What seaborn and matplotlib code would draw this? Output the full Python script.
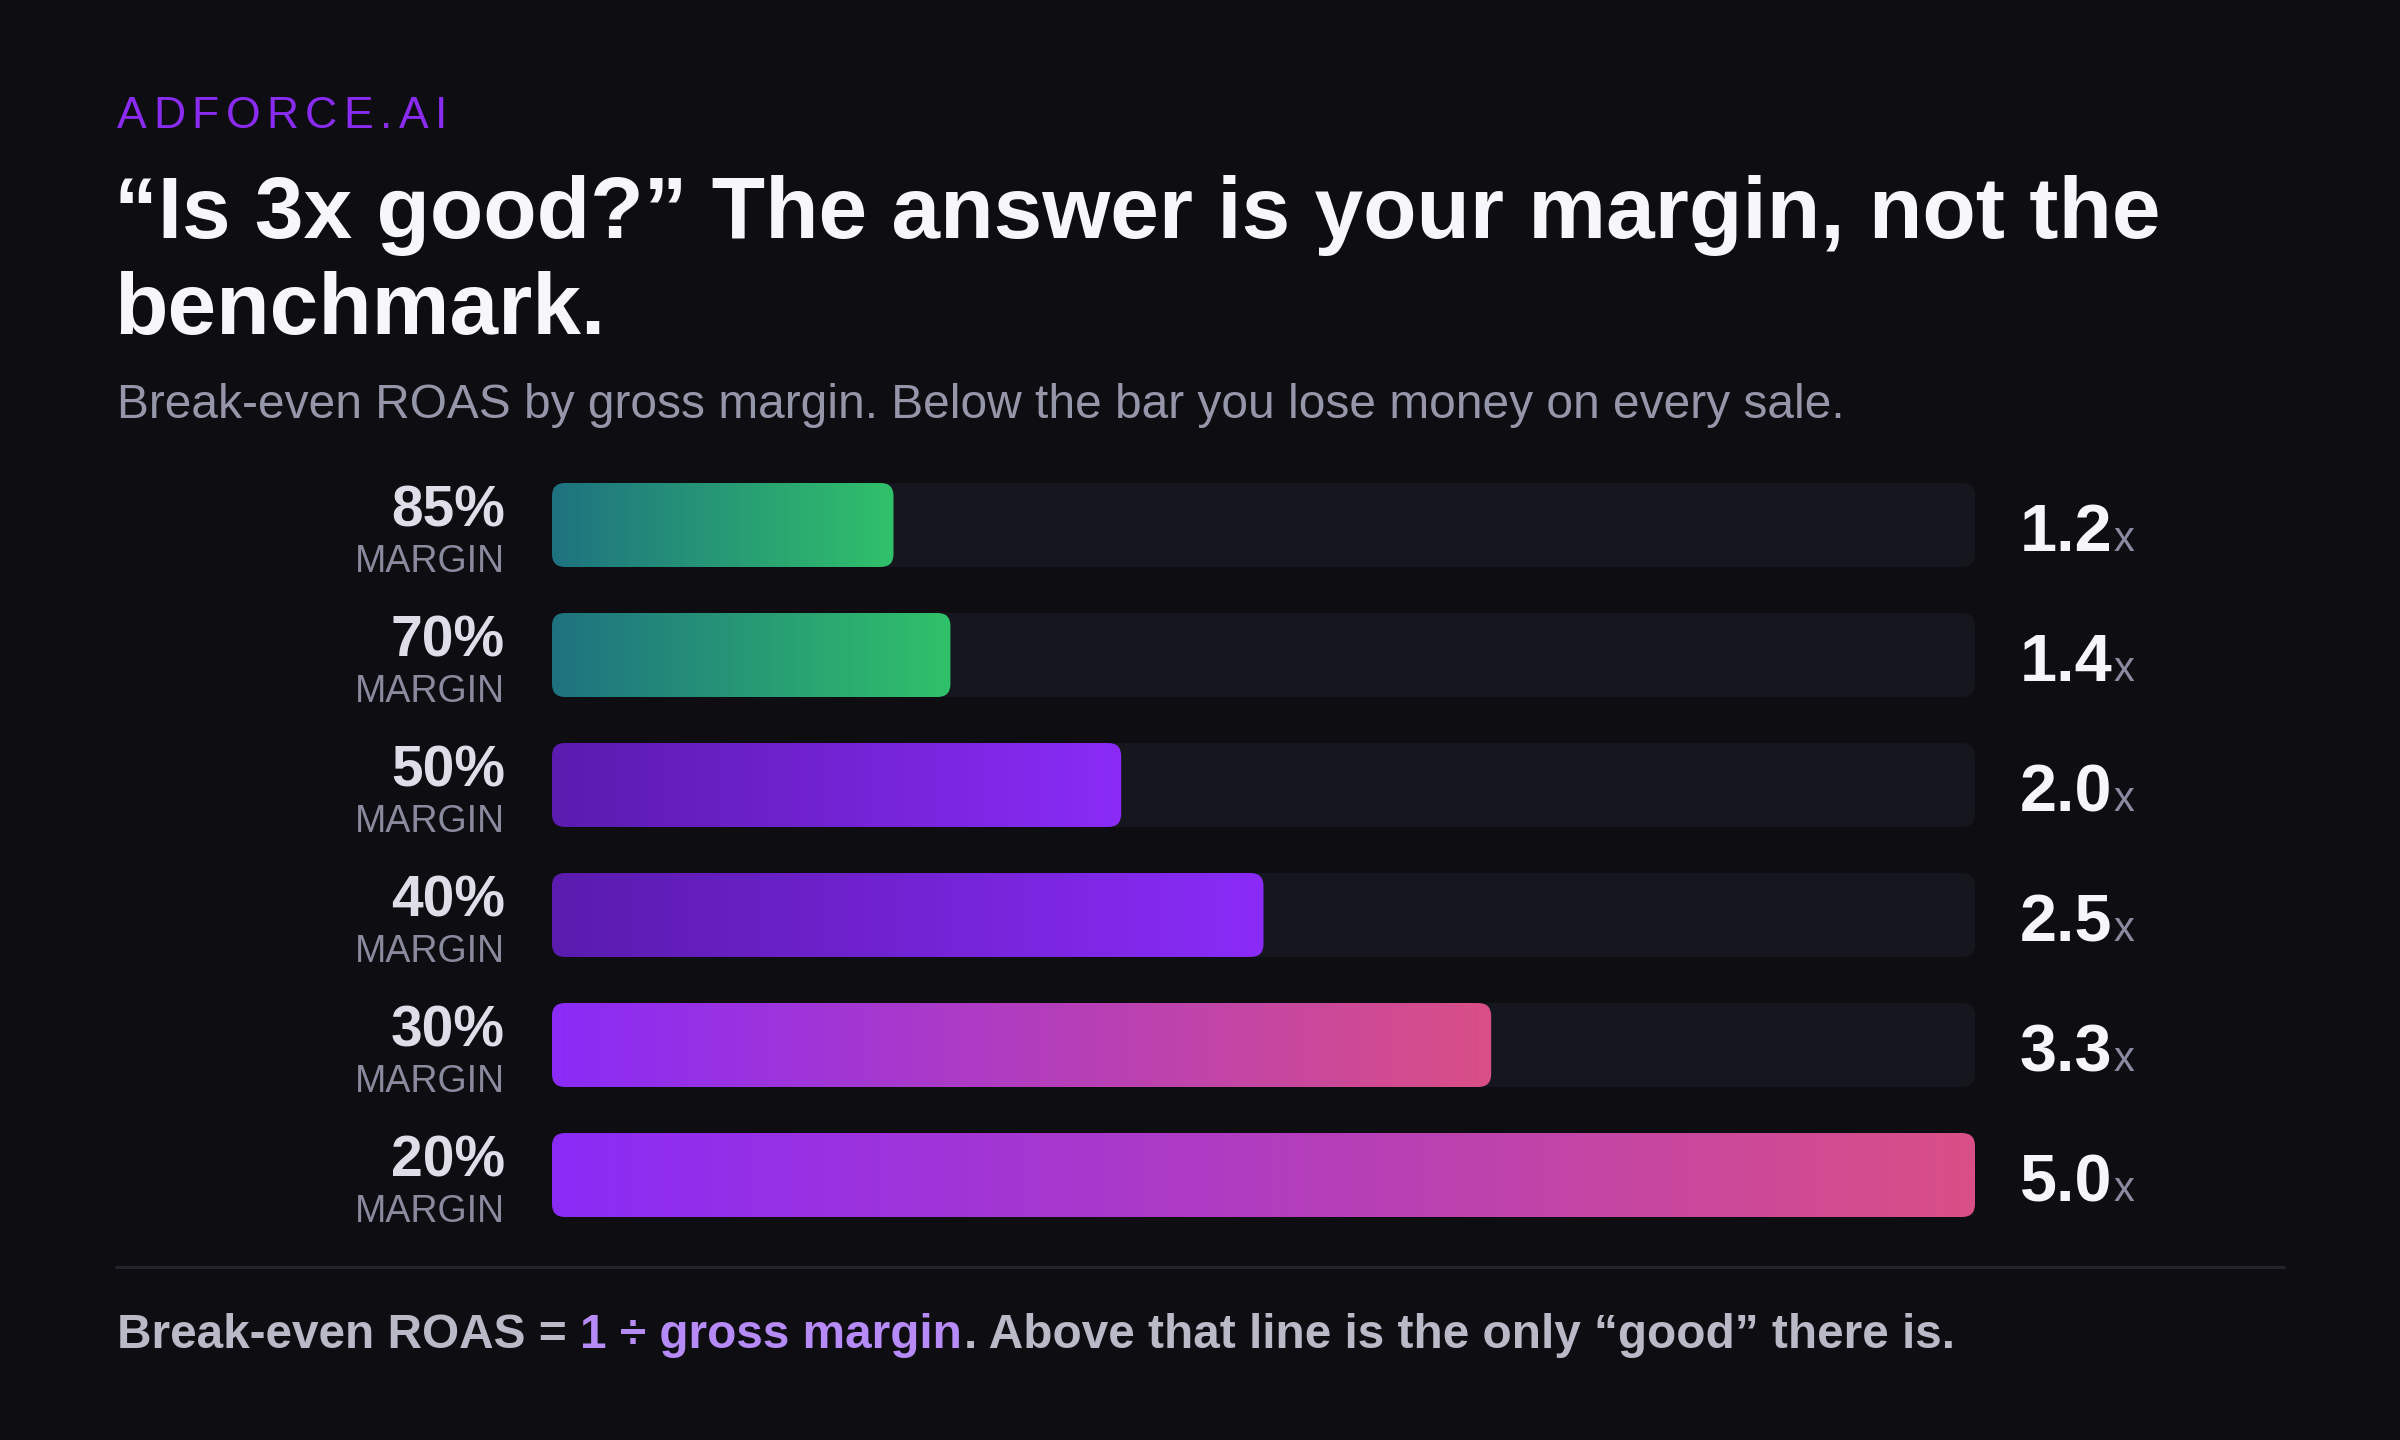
import numpy as np
import pandas as pd
import matplotlib
matplotlib.use("Agg")
import matplotlib.pyplot as plt
import matplotlib.transforms as mtransforms
from matplotlib.colors import to_rgb
from matplotlib.lines import Line2D
from matplotlib.patches import FancyBboxPatch
import seaborn as sns

# --- data ---
margins = ["85%", "70%", "50%", "40%", "30%", "20%"]
roas = [1.2, 1.4, 2.0, 2.5, 3.3, 5.0]
roas_labels = ["1.2", "1.4", "2.0", "2.5", "3.3", "5.0"]

brand = "ADFORCE.AI"
title_lines = ["\u201cIs 3x good?\u201d The answer is your margin, not the", "benchmark."]
subtitle = "Break-even ROAS by gross margin. Below the bar you lose money on every sale."
footer_a = "Break-even ROAS ="
footer_b = "1 \u00f7 gross margin"
footer_c = ". Above that line is the only \u201cgood\u201d there is."

# --- style ---
W, H = 2400, 1440
BG = "#0d0d12"
TRACK = "#16161e"
VIOLET = "#8a2bf2"
grad_colors = [("#1e7280", "#30c16a"), ("#1e7280", "#30c16a"),
               ("#5a1bae", "#8a2bf7"), ("#5a1bae", "#8a2bf7"),
               ("#8a2bf7", "#d94f86"), ("#8a2bf7", "#d94f86")]

sns.set_style("dark")
plt.rcParams["font.family"] = ["Liberation Sans", "DejaVu Sans"]

fig = plt.figure(figsize=(W / 100, H / 100), dpi=100, facecolor=BG)
renderer = fig.canvas.get_renderer()


def put(x, y, s, **kw):
    kw.setdefault("va", "baseline")
    return fig.text(x / W, 1 - y / H, s, **kw)


def text_w(s, **kw):
    t = fig.text(0, 0, s, **kw)
    w = t.get_window_extent(renderer).width
    t.remove()
    return w


# --- bar area ---
left, right = 552, 1975
row_h = 130
top = 525 - row_h / 2
ax = fig.add_axes([left / W, 1 - (top + 6 * row_h) / H, (right - left) / W, 6 * row_h / H])
ax.set_facecolor(BG)

df = pd.DataFrame({"margin": margins, "roas": roas})
bar_h = 84 / row_h
sns.barplot(data=df, x="roas", y="margin", orient="h", width=bar_h,
            color="w", errorbar=None, ax=ax)

xmax = max(roas)
r_px = 13
px_per_x = (right - left) / xmax
aspect = px_per_x / row_h
rsize = r_px / px_per_x
style = f"round,pad=0,rounding_size={rsize}"

patches = sorted(ax.patches, key=lambda p: p.get_y())
for i, p in enumerate(patches):
    x0, y0, w, h = p.get_x(), p.get_y(), p.get_width(), p.get_height()
    p.set_visible(False)
    track = FancyBboxPatch((0, y0), xmax, h, boxstyle=style, mutation_aspect=aspect,
                           fc=TRACK, ec="none", zorder=1)
    ax.add_patch(track)
    clip = FancyBboxPatch((x0, y0), w, h, boxstyle=style, mutation_aspect=aspect,
                          fc="none", ec="none", zorder=2)
    ax.add_patch(clip)
    c0, c1 = np.array(to_rgb(grad_colors[i][0])), np.array(to_rgb(grad_colors[i][1]))
    t = np.linspace(0, 1, 256)[None, :, None]
    img = c0 + (c1 - c0) * t
    im = ax.imshow(img, extent=(x0, x0 + w, y0 + h, y0), aspect="auto",
                   interpolation="bilinear", zorder=2)
    im.set_clip_path(clip)

ax.set_xlim(0, xmax)
ax.set_ylim(5.5, -0.5)
ax.axis("off")

# row labels and values
blend = mtransforms.blended_transform_factory(fig.transFigure, ax.transData)
for i, (m, v) in enumerate(zip(margins, roas_labels)):
    ax.text(505 / W, i + 0.015, m, transform=blend, ha="right", va="baseline",
            fontsize=41, fontweight="bold", color="#dedde8")
    ax.text(505 / W, i + 0.36, "MARGIN", transform=blend, ha="right", va="baseline",
            fontsize=27, color="#8a8a9e")
    tv = ax.text(2020 / W, i + 0.2, v, transform=blend, ha="left", va="baseline",
                 fontsize=48, fontweight="bold", color="#f6f6fa")
    bb = tv.get_window_extent(renderer)
    ax.text((bb.x1 + 1) / W, i + 0.2, "x", transform=blend, ha="left", va="baseline",
            fontsize=30, color="#8a8aa0")

# --- header ---
bx = 117
track_px = 6.5
for k, ch in enumerate(brand):
    xk = bx + (text_w(brand[:k], fontsize=32) if k else 0) + k * track_px
    put(xk, 128, ch, fontsize=32, color=VIOLET)

put(114, 238, title_lines[0], fontsize=63, fontweight="bold", color="#f7f7fa")
put(114, 334, title_lines[1], fontsize=63, fontweight="bold", color="#f7f7fa")
put(117, 418, subtitle, fontsize=34.5, color="#9696aa")

# --- footer ---
fig.add_artist(Line2D([116 / W, 2284 / W], [1 - 1267 / H] * 2, transform=fig.transFigure,
                      color="#24242d", lw=2.2))
fkw = dict(fontsize=34.4, fontweight="bold")
space = text_w("a a", **fkw) - text_w("aa", **fkw)
fx = 117
t = put(fx, 1348, footer_a, color="#b9b9c8", **fkw)
fx += t.get_window_extent(renderer).width + space
t = put(fx, 1348, footer_b, color="#b68af7", **fkw)
fx += t.get_window_extent(renderer).width + 2
put(fx, 1348, footer_c, color="#b9b9c8", **fkw)

fig.savefig("out.png", dpi=100, facecolor=BG)
